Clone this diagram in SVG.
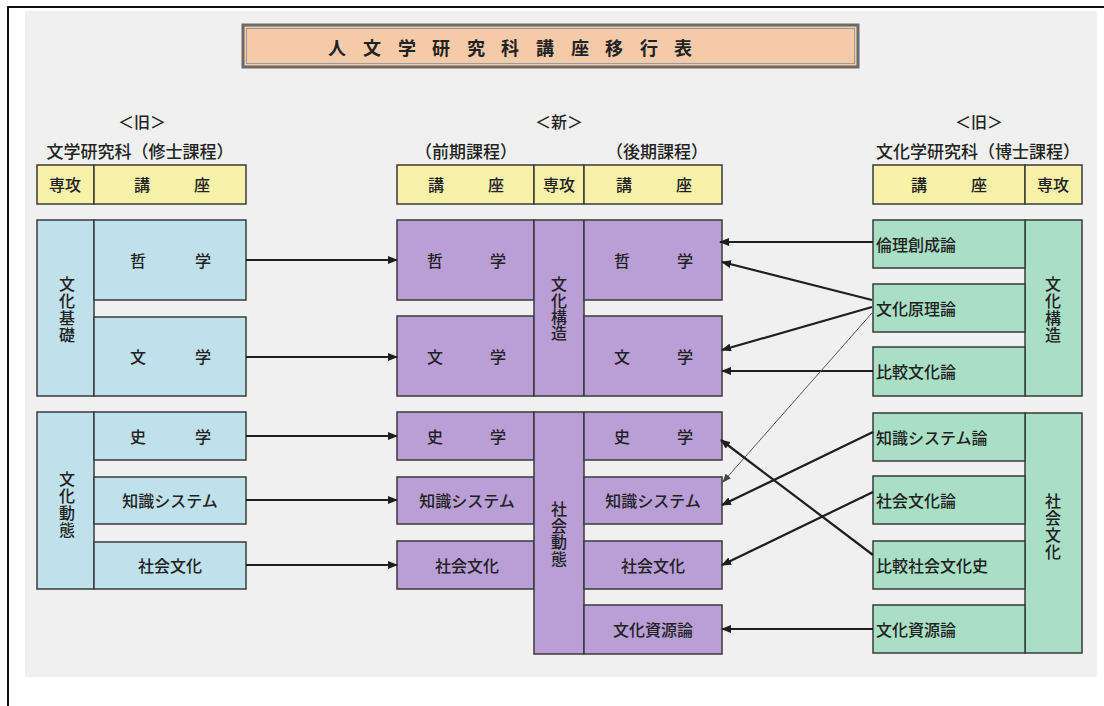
<svg xmlns="http://www.w3.org/2000/svg" width="1104" height="706" viewBox="0 0 1104 706">
<style>
text{font-family:"Noto Sans CJK JP","Noto Sans CJK SC",sans-serif;fill:#222;font-size:16px;font-weight:500;text-anchor:middle;dominant-baseline:central}
.l{text-anchor:start}
.hd{font-size:17px}
.b{stroke:#3a3a3a;stroke-width:1.5}
.blue{fill:#bfe1ec}
.pur{fill:#b99fd6}
.grn{fill:#a8dfc5}
.yel{fill:#f7f1a9}
.c{stroke:#1e1e1e;stroke-width:2.2;fill:none;marker-end:url(#ah)}
.t{stroke:#555;stroke-width:1;fill:none;marker-end:url(#ah2)}
</style>
<defs>
<marker id="ah" markerUnits="userSpaceOnUse" markerWidth="10" markerHeight="8" refX="9" refY="4" orient="auto"><path d="M0,0 L10,4 L0,8 Z" fill="#1e1e1e"/></marker>
<marker id="ah2" markerUnits="userSpaceOnUse" markerWidth="9" markerHeight="7" refX="8" refY="3.5" orient="auto"><path d="M0,0 L9,3.5 L0,7 Z" fill="#444"/></marker>
</defs>
<rect x="0" y="0" width="1104" height="706" fill="#fff"/>
<path d="M8,706 V7 H1104" fill="none" stroke="#111" stroke-width="2"/>
<rect x="25" y="11" width="1072" height="666" fill="#f0f0f0"/>

<g id="title">
<rect x="243" y="25" width="615" height="42" fill="#f5caa8" stroke="#6a6a6a" stroke-width="3"/>
<rect x="246.5" y="28.5" width="608" height="35" fill="none" stroke="#9a9a9a" stroke-width="1"/>
<text style="font-size:18px;font-weight:700" y="47" x="337 354 372 389 407 424 441 458 476 493 510 528 545 562 580 597 614 631 649 666 683">人 文 学 研 究 科 講 座 移 行 表</text>
</g>

<g id="header-left">
<text x="142" y="121">＜旧＞</text>
<text class="hd" x="140" y="150">文学研究科（修士課程）</text>
<rect class="b yel" x="37" y="165" width="57" height="39"/>
<rect class="b yel" x="94" y="165" width="152" height="39"/>
<text x="65" y="184">専攻</text>
<text x="142 172 202" y="184">講 座</text>
</g>

<g id="header-mid">
<text x="559" y="121">＜新＞</text>
<text class="hd" x="466" y="150">（前期課程）</text>
<text class="hd" x="657" y="150">（後期課程）</text>
<rect class="b yel" x="397" y="165" width="137" height="39"/>
<rect class="b yel" x="534" y="165" width="50" height="39"/>
<rect class="b yel" x="584" y="165" width="138" height="39"/>
<text x="436 466 496" y="184">講 座</text>
<text x="559" y="184">専攻</text>
<text x="624 654 684" y="184">講 座</text>
</g>

<g id="header-right">
<text x="979" y="121">＜旧＞</text>
<text class="hd" x="978" y="150">文化学研究科（博士課程）</text>
<rect class="b yel" x="873" y="165" width="152" height="39"/>
<rect class="b yel" x="1025" y="165" width="57" height="39"/>
<text x="919 949 979" y="184">講 座</text>
<text x="1053" y="184">専攻</text>
</g>

<!-- left (old master's) -->
<g id="L-bunka-kiso">
<rect class="b blue" x="37" y="220" width="57" height="176"/>
<text x="67 67 67 67" y="283 300 317 334">文化基礎</text>
</g>
<g id="L-tetsugaku"><rect class="b blue" x="94" y="220" width="152" height="80"/><text x="138 170 203" y="260">哲 学</text></g>
<g id="L-bungaku"><rect class="b blue" x="94" y="317" width="152" height="79"/><text x="138 170 203" y="356">文 学</text></g>
<g id="L-bunka-dotai">
<rect class="b blue" x="37" y="412" width="57" height="177"/>
<text x="67 67 67 67" y="478 495 512 529">文化動態</text>
</g>
<g id="L-shigaku"><rect class="b blue" x="94" y="412" width="152" height="48"/><text x="138 170 203" y="436">史 学</text></g>
<g id="L-chishiki"><rect class="b blue" x="94" y="477" width="152" height="47"/><text x="170" y="500">知識システム</text></g>
<g id="L-shakai"><rect class="b blue" x="94" y="542" width="152" height="47"/><text x="170" y="565">社会文化</text></g>

<!-- middle (new) -->
<g id="M-tetsugaku-1"><rect class="b pur" x="397" y="220" width="137" height="80"/><text x="435 466 498" y="260">哲 学</text></g>
<g id="M-bungaku-1"><rect class="b pur" x="397" y="316" width="137" height="80"/><text x="435 466 498" y="356">文 学</text></g>
<g id="M-bunka-kozo">
<rect class="b pur" x="534" y="220" width="50" height="176"/>
<text x="559 559 559 559" y="283 299.5 316 332">文化構造</text>
</g>
<g id="M-tetsugaku-2"><rect class="b pur" x="584" y="220" width="138" height="80"/><text x="622 653 685" y="260">哲 学</text></g>
<g id="M-bungaku-2"><rect class="b pur" x="584" y="316" width="138" height="80"/><text x="622 653 685" y="356">文 学</text></g>

<g id="M-shigaku-1"><rect class="b pur" x="397" y="412" width="137" height="48"/><text x="435 466 498" y="436">史 学</text></g>
<g id="M-chishiki-1"><rect class="b pur" x="397" y="477" width="137" height="47"/><text x="467" y="500">知識システム</text></g>
<g id="M-shakai-1"><rect class="b pur" x="397" y="541" width="137" height="48"/><text x="467" y="565">社会文化</text></g>
<g id="M-shakai-dotai">
<rect class="b pur" x="534" y="412" width="50" height="242"/>
<text x="559 559 559 559" y="508 525 541 558">社会動態</text>
</g>
<g id="M-shigaku-2"><rect class="b pur" x="584" y="412" width="138" height="48"/><text x="622 653 685" y="436">史 学</text></g>
<g id="M-chishiki-2"><rect class="b pur" x="584" y="477" width="138" height="47"/><text x="653" y="500">知識システム</text></g>
<g id="M-shakai-2"><rect class="b pur" x="584" y="541" width="138" height="48"/><text x="653" y="565">社会文化</text></g>
<g id="M-shigen"><rect class="b pur" x="584" y="605" width="138" height="49"/><text x="653" y="629">文化資源論</text></g>

<!-- right (old doctoral) -->
<g id="R-bunka-kozo">
<rect class="b grn" x="1025" y="220" width="57" height="176"/>
<text x="1053 1053 1053 1053" y="283 300 317 334">文化構造</text>
</g>
<g id="R-rinri"><rect class="b grn" x="873" y="220" width="152" height="48"/><text class="l" x="876" y="244">倫理創成論</text></g>
<g id="R-genri"><rect class="b grn" x="873" y="284" width="152" height="48"/><text class="l" x="876" y="308">文化原理論</text></g>
<g id="R-hikaku"><rect class="b grn" x="873" y="347" width="152" height="49"/><text class="l" x="876" y="371">比較文化論</text></g>
<g id="R-shakai-bunka">
<rect class="b grn" x="1025" y="413" width="57" height="240"/>
<text x="1053 1053 1053 1053" y="500 517 534 551">社会文化</text>
</g>
<g id="R-chishiki"><rect class="b grn" x="873" y="413" width="152" height="48"/><text class="l" x="876" y="437">知識システム論</text></g>
<g id="R-shakai"><rect class="b grn" x="873" y="476" width="152" height="48"/><text class="l" x="876" y="500">社会文化論</text></g>
<g id="R-hikaku-shi"><rect class="b grn" x="873" y="541" width="152" height="48"/><text class="l" x="876" y="565">比較社会文化史</text></g>
<g id="R-shigen"><rect class="b grn" x="873" y="605" width="152" height="48"/><text class="l" x="876" y="629">文化資源論</text></g>

<g id="connectors">
<line class="c" x1="246" y1="260" x2="397" y2="260"/>
<line class="c" x1="246" y1="357" x2="397" y2="357"/>
<line class="c" x1="246" y1="436" x2="397" y2="436"/>
<line class="c" x1="246" y1="500" x2="397" y2="500"/>
<line class="c" x1="246" y1="565" x2="397" y2="565"/>
<line class="c" x1="873" y1="242" x2="720" y2="242"/>
<line class="c" x1="872" y1="300" x2="722" y2="262"/>
<line class="c" x1="872" y1="307" x2="722" y2="350"/>
<line class="c" x1="873" y1="371" x2="722" y2="371"/>
<line class="t" x1="872" y1="313" x2="723" y2="482"/>
<line class="c" x1="873" y1="432" x2="722" y2="505"/>
<line class="c" x1="873" y1="492" x2="722" y2="565"/>
<line class="c" x1="873" y1="555" x2="721" y2="440"/>
<line class="c" x1="873" y1="629" x2="722" y2="629"/>
</g>
</svg>
